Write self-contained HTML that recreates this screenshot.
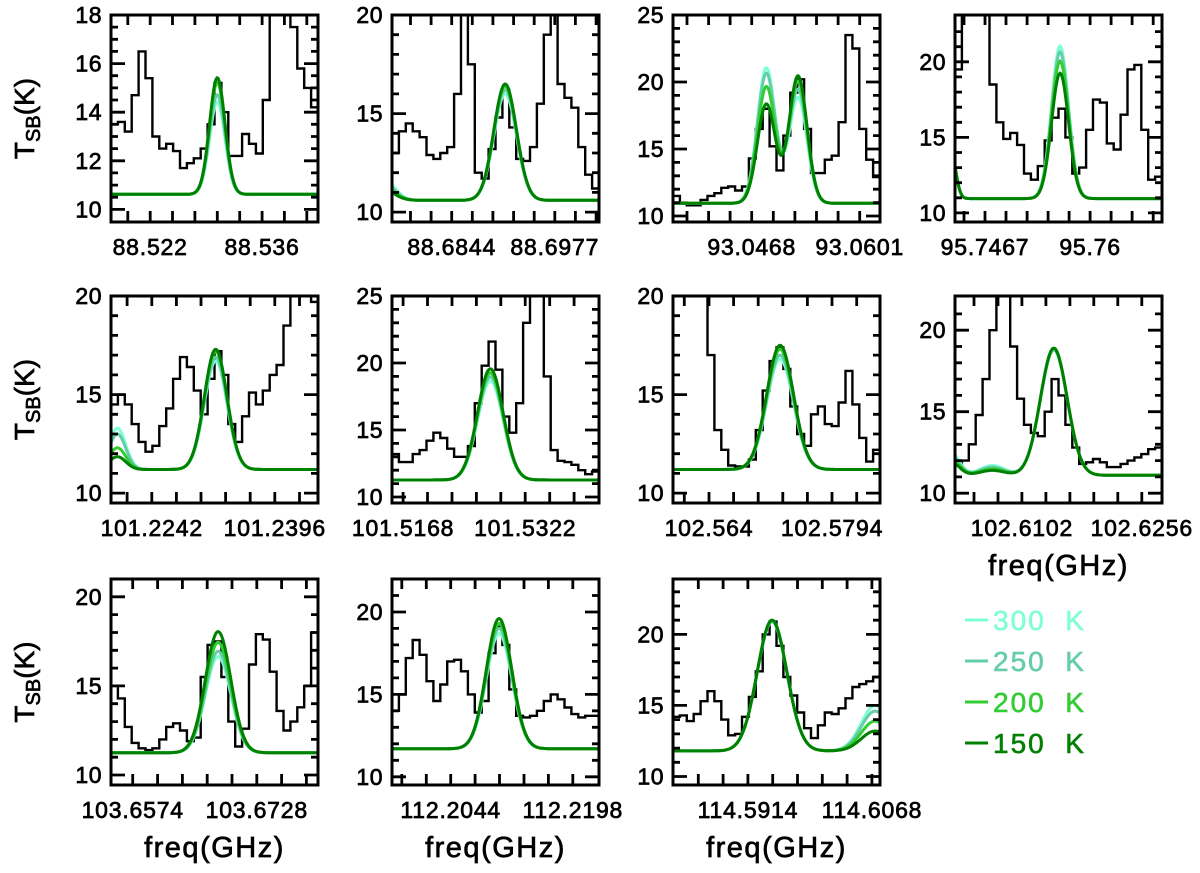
<!DOCTYPE html>
<html>
<head>
<meta charset="utf-8">
<style>
  html,body{margin:0;padding:0;background:#fff;}
  svg{display:block;}
  text{font-family:"Liberation Sans",sans-serif;fill:#000;}
</style>
</head>
<body>
<svg id="chart" width="1200" height="873" viewBox="0 0 1200 873" xmlns="http://www.w3.org/2000/svg"></svg>
<script>
// ---------- data ----------
const temps = ["300 K", "250 K", "200 K", "150 K"];
const tempColors = ["#7fffd4", "#66cdaa", "#32cd32", "#008000"];

const xMins = [88.5171, 88.6767, 93.0371, 95.7429, 101.2191, 101.5154, 102.5595, 102.6016, 103.6547, 112.1970, 114.5821];
const xMaxs = [88.5430, 88.7034, 93.0626, 95.7691, 101.2450, 101.5415, 102.5854, 102.6282, 103.6804, 112.2231, 114.6078];
const xTickLabels = [
  ["88.522","88.536"],["88.6844","88.6977"],["93.0468","93.0601"],["95.7467","95.76"],
  ["101.2242","101.2396"],["101.5168","101.5322"],["102.564","102.5794"],["102.6102","102.6256"],
  ["103.6574","103.6728"],["112.2044","112.2198"],["114.5914","114.6068"]
];
const yMins = [9.48, 9.5, 9.55, 9.4, 9.5, 9.55, 9.5, 9.4, 9.44, 9.5, 9.4];
const yMaxs = [18, 20, 25, 23.1, 20, 25, 20, 22.1, 21.0, 22.0, 23.9];
const yTickLabels = [
  [10,12,14,16,18],[10,15,20],[10,15,20,25],[10,15,20],
  [10,15,20],[10,15,20,25],[10,15,20],[10,15,20],
  [10,15,20],[10,15,20],[10,15,20]
];
const yMinorSteps = [0.5,1,1,1,1,1,1,1,1,1,1];

// observed spectra (K), 30 channels across each panel
const spec01 = [13.5,13.6,13.2,14.7,16.5,15.4,13.0,12.5,12.7,12.4,11.7,11.9,12.1,12.5,13.5,15.2,14.0,12.2,12.2,13.1,12.7,12.3,14.5,18.5,19,19,17.5,15.8,15.0,14.2];
const spec02 = [13.0,14.1,14.5,14.1,13.8,12.9,12.7,13.0,13.3,16.0,21,17.5,12.0,11.7,13.2,14.8,16.2,14.3,12.7,12.6,13.3,15.5,19.0,21,16.5,15.8,15.3,13.3,11.9,11.2];
const spec03 = [11.5,11.0,10.8,10.8,11.2,11.5,11.7,12.1,12.2,11.9,12.2,14.3,16.5,18.0,15.2,13.4,16.0,19.2,20.2,16.5,13.2,13.2,14.2,14.5,17.0,23.5,22.5,16.5,14.2,12.9];
const spec04 = [19.5,23.5,24,24,24,18.5,16.0,14.9,15.3,14.5,12.6,12.2,13.1,14.8,16.3,16.9,15.0,12.6,13.0,15.5,17.5,17.3,14.6,14.2,16.5,19.5,19.8,15.5,12.2,12.4];
const spec05 = [14.5,15.0,14.5,13.5,12.6,12.1,12.4,13.4,14.3,15.8,16.9,16.4,15.2,14.0,15.8,17.2,16.0,13.5,12.6,13.9,15.1,14.5,15.2,16.0,16.5,18.5,21,21,21,19.7];
const spec06 = [13.2,12.6,12.6,13.2,13.5,14.2,14.8,14.4,13.6,13.0,13.0,13.8,17.0,19.8,21.6,19.5,16.0,14.8,17.0,23,26,26,19,13.5,12.7,12.6,12.4,12.0,11.7,11.9];
const spec07 = [21,21,21,21,21,17,13.2,12.2,11.4,11.35,11.35,11.7,13.2,15.2,16.7,17.4,16.3,14.4,13.0,12.4,14.0,14.4,13.5,13.4,14.6,16.2,14.5,12.8,11.6,12.2];
const spec08 = [11.7,12.0,13.0,14.8,17.0,20,23,23,19,15.8,14.2,13.7,13.5,15.0,17.0,16.0,14.2,12.8,11.8,11.9,12.1,11.9,11.6,11.6,11.8,12.0,12.2,12.4,12.7,12.8];
const spec09 = [15.0,14.3,12.7,11.8,11.5,11.4,11.5,12.0,12.7,12.9,12.5,11.9,12.1,15.5,17.3,17.5,15.5,13.0,11.6,12.6,16.2,17.9,17.6,15.8,13.6,12.5,13.0,13.8,15.0,18.0];
const spec10 = [14.0,15.0,17.2,18.3,17.4,15.8,14.6,15.6,17.0,17.1,16.4,15.0,13.9,14.6,17.5,19.1,18.0,15.3,13.7,13.6,13.7,14.0,14.6,15.0,14.7,14.2,13.8,13.6,13.7,13.7];
const spec11 = [14.2,14.3,13.9,14.4,15.3,16.0,15.3,14.0,12.9,13.0,14.2,15.6,17.4,20.0,20.9,19.2,17.0,15.7,14.5,13.4,12.7,13.6,14.5,14.4,14.8,15.5,16.3,16.5,16.7,17.0];
const spectra = [spec01,spec02,spec03,spec04,spec05,spec06,spec07,spec08,spec09,spec10,spec11];

// LTE model: baseline + gaussian lines (centre GHz, sigma GHz, peak per temperature)
const baselines = [10.62, 10.6, 10.95, 10.95, 11.2, 11.27, 11.2, 11.1, 11.25, 11.7, 11.8];
const lineCenters = [
  [88.5304],[88.6754,88.6913],[93.0486,93.0525],[95.7424,95.7562],
  [101.2199,101.2322],[101.5278],[102.5729],[102.6011,102.6064,102.6143],
  [103.6680],[112.2105],[114.5944,114.6072]
];
const lineSigmas = [
  [0.00097],[0.00146,0.00146],[0.00111,0.00111],[0.0006,0.00108],
  [0.00104,0.00142],[0.00161],[0.00168],[0.00106,0.0016,0.00172],
  [0.00158],[0.00161],[0.00184,0.00174]
];
const amps300 = [[3.8],[1.2,5.4],[10.1,7.9],[3,10.1],[2.1,5.5],[7.4],[5.6],[1.4,0.6,7.7],[5.4],[7.0],[9.1,3.2]];
const amps250 = [[4.1],[1.0,5.6],[9.7,8.5],[3,9.7],[1.8,5.7],[7.7],[5.8],[1.2,0.5,7.7],[5.7],[7.3],[9.1,2.8]];
const amps200 = [[4.6],[0.8,5.8],[8.7,9.1],[3,9.1],[1.1,6.0],[8.0],[6.1],[1.0,0.4,7.8],[6.2],[7.6],[9.2,2.1]];
const amps150 = [[4.8],[0.6,5.9],[7.4,9.5],[3,8.3],[0.65,6.1],[8.3],[6.3],[0.8,0.3,7.8],[6.8],[7.9],[9.2,1.4]];
const ampsByTemp = [amps300, amps250, amps200, amps150];

// ---------- layout ----------
const colLeft = [111, 392, 673, 955];
const rowTop = [15, 296, 579];
const rowH = [207, 207, 206];
const PW = 207;
const NS = "http://www.w3.org/2000/svg";
const svg = document.getElementById("chart");

function mk(tag, attrs, parent) {
  const e = document.createElementNS(NS, tag);
  for (const k in attrs) e.setAttribute(k, attrs[k]);
  (parent || svg).appendChild(e);
  return e;
}

const defs = mk("defs", {});

for (let p = 0; p < 11; p++) {
  const row = p < 4 ? 0 : (p < 8 ? 1 : 2);
  const col = p < 4 ? p : (p < 8 ? p - 4 : p - 8);
  const L = colLeft[col], T = rowTop[row], H = rowH[row];
  const x0 = xMins[p], x1 = xMaxs[p], y0 = yMins[p], y1 = yMaxs[p];
  const sx = v => L + (v - x0) / (x1 - x0) * PW;
  const sy = v => T + H - (v - y0) / (y1 - y0) * H;

  const g = mk("g", {});
  
  

  const cp = mk("clipPath", { id: "clip" + p }, defs);
  mk("rect", { x: L, y: T, width: PW, height: H }, cp);

  // observed spectrum (histogram)
  const spec = spectra[p];
  const n = spec.length;
  let d = "";
  for (let i = 0; i < n; i++) {
    const xa = sx(x0 + (x1 - x0) * i / n), xb = sx(x0 + (x1 - x0) * (i + 1) / n);
    const yy = sy(spec[i]);
    d += (i === 0 ? "M" : "L") + xa.toFixed(1) + "," + yy.toFixed(1) + "L" + xb.toFixed(1) + "," + yy.toFixed(1);
  }
  const obs = mk("path", { d: d, fill: "none", stroke: "#000", "stroke-width": 2.4, "clip-path": "url(#clip" + p + ")" }, g);
  
  

  // models
  for (let t = 0; t < 4; t++) {
    const amps = ampsByTemp[t][p];
    let md = "";
    for (let px = 0; px <= PW; px++) {
      const f = x0 + (x1 - x0) * px / PW;
      let v = baselines[p];
      for (let k = 0; k < lineCenters[p].length; k++) {
        const z = (f - lineCenters[p][k]) / lineSigmas[p][k];
        v += amps[k] * Math.exp(-0.5 * z * z);
      }
      md += (px === 0 ? "M" : "L") + sx(f).toFixed(1) + "," + sy(v).toFixed(1);
    }
    const ml = mk("path", { d: md, fill: "none", stroke: tempColors[t], "stroke-width": 3, "clip-path": "url(#clip" + p + ")" }, g);
    
    
  }

  // frame
  const fr = mk("rect", { x: L, y: T, width: PW, height: H, fill: "none", stroke: "#000", "stroke-width": 3 }, g);
  
  

  // x ticks
  const t1 = parseFloat(xTickLabels[p][0]), t2 = parseFloat(xTickLabels[p][1]);
  const step = (t2 - t1) / 5;
  let tk = "";
  for (let v = t1 - Math.floor((t1 - x0) / step) * step; v <= x1 + 1e-9; v += step) {
    const xx = sx(v);
    if (xx < L + 2 || xx > L + PW - 2) continue;
    tk += "M" + xx.toFixed(1) + "," + (T + H) + "v-11M" + xx.toFixed(1) + "," + T + "v10";
  }
  // y ticks
  const ms = yMinorSteps[p];
  for (let v = Math.ceil(y0 / ms) * ms; v <= y1 + 1e-9; v += ms) {
    const yy = sy(v);
    if (yy < T + 2 || yy > T + H - 2) continue;
    const major = yTickLabels[p].some(m => Math.abs(m - v) < 1e-6);
    const len = major ? 14 : 7;
    tk += "M" + L + "," + yy.toFixed(1) + "h" + len + "M" + (L + PW) + "," + yy.toFixed(1) + "h-" + len;
  }
  const ticks = mk("path", { d: tk, fill: "none", stroke: "#000", "stroke-width": 2.8 }, g);
  
  

  // x tick labels
  xTickLabels[p].forEach(lbl => {
    const tx = mk("text", { x: sx(parseFloat(lbl)), y: T + H + 33, "text-anchor": "middle", "font-size": 23, "letter-spacing": 0.8, stroke: "#000", "stroke-width": 0.7 }, g);
    tx.textContent = lbl;
    
    
  });
  // y tick labels
  yTickLabels[p].forEach(v => {
    const ty = mk("text", { x: L - 9, y: sy(v) + 8, "text-anchor": "end", "font-size": 23, "letter-spacing": 0.5, stroke: "#000", "stroke-width": 0.7 }, g);
    ty.textContent = String(v);
    
    
  });

  // y-axis title (first column)
  if (col === 0) {
    const cy = T + H / 2;
    const yt = mk("text", { x: 0, y: 0, "text-anchor": "middle", "font-size": 28, stroke: "#000", "stroke-width": 0.7, transform: "translate(34," + cy + ") rotate(-90)" }, g);
    
    
    const s1 = mk("tspan", {}, yt); s1.textContent = "T";
    const s2 = mk("tspan", { "font-size": 20, dy: 6 }, yt); s2.textContent = "SB";
    const s3 = mk("tspan", { dy: -6 }, yt); s3.textContent = "(K)";
  }
  // x-axis title
  if (row === 2 || p === 7) {
    const xt = mk("text", { x: L + PW / 2, y: T + H + 72, "text-anchor": "middle", "font-size": 29, "letter-spacing": 1.5, stroke: "#000", "stroke-width": 0.7 }, g);
    xt.textContent = "freq(GHz)";
    
    
  }
}

// legend
const lg = mk("g", {});


for (let t = 0; t < 4; t++) {
  const yy = 620 + t * 41;
  const e = mk("g", {}, lg);
  
  
  mk("line", { x1: 965, x2: 988, y1: yy, y2: yy, stroke: tempColors[t], "stroke-width": 3 }, e);
  const tx = mk("text", { x: 993, y: yy + 10, "font-size": 28, "letter-spacing": 2, stroke: tempColors[t], "stroke-width": 0.6, style: "fill:" + tempColors[t] }, e);
  tx.textContent = temps[t].replace(" ", "\u00a0\u00a0");
}
</script>
</body>
</html>
